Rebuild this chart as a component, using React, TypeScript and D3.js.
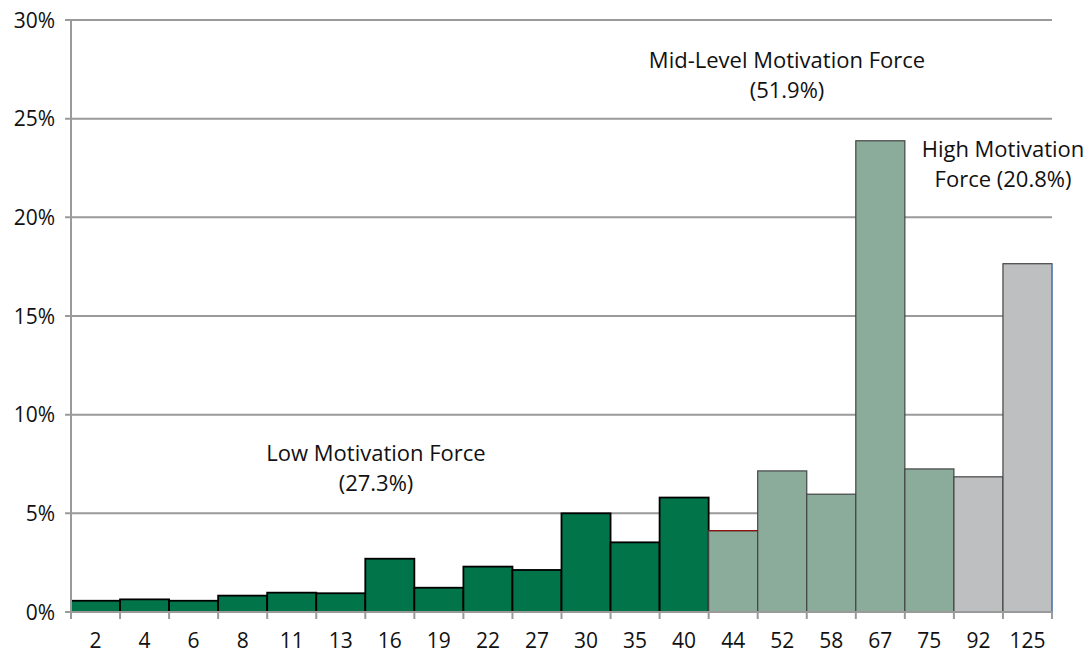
import React, { useEffect, useRef } from "react";
import * as d3 from "d3";

const categories = ["2", "4", "6", "8", "11", "13", "16", "19", "22", "27", "30", "35", "40", "44", "52", "58", "67", "75", "92", "125"];
const values = [0.57, 0.64, 0.57, 0.83, 0.98, 0.95, 2.7, 1.23, 2.3, 2.13, 5.0, 3.53, 5.8, 4.12, 7.15, 5.97, 23.88, 7.25, 6.85, 17.65];
// group: 0 low, 1 mid, 2 high
const groups = [0, 0, 0, 0, 0, 0, 0, 0, 0, 0, 0, 0, 0, 1, 1, 1, 1, 1, 2, 2];
const yTicks = [0, 5, 10, 15, 20, 25, 30];

const App: React.FC = () => {
    const svgRef = useRef<SVGSVGElement | null>(null);

    useEffect(() => {
        if (!svgRef.current) return;
        const W = 1092, H = 654;
        const margin = { top: 20, right: 40, bottom: 42, left: 71 };
        const width = W - margin.left - margin.right;
        const height = H - margin.top - margin.bottom;
        const font = "'Open Sans', 'Noto Sans', sans-serif";
        const fs = 21;

        const root = d3.select(svgRef.current);
        root.selectAll("*").remove();
        root.attr("width", W).attr("height", H);

        const svg = root.append("g").attr("transform", `translate(${margin.left},${margin.top})`);

        const x = d3.scaleBand<string>().domain(categories).range([0, width]).padding(0);
        const y = d3.scaleLinear().domain([0, 30]).range([height, 0]);

        // gridlines
        svg.append("g")
            .selectAll("line")
            .data(yTicks)
            .enter()
            .append("line")
            .attr("x1", -6)
            .attr("x2", width)
            .attr("y1", d => y(d))
            .attr("y2", d => y(d))
            .attr("stroke", "#9a9a9a")
            .attr("stroke-width", 2);

        svg.append("g")
            .selectAll("text")
            .data(yTicks)
            .enter()
            .append("text")
            .attr("x", -16)
            .attr("y", d => y(d))
            .attr("dy", "0.36em")
            .attr("text-anchor", "end")
            .attr("font-family", font)
            .attr("font-size", fs)
            .attr("fill", "#111")
            .text(d => d + "%");

        const fills = ["#02744a", "#8bac9b", "#bebfc1"];
        const strokes = ["#000", "#444", "#444"];

        svg.append("g")
            .selectAll("rect")
            .data(values)
            .enter()
            .append("rect")
            .attr("x", (d, i) => x(categories[i])!)
            .attr("y", d => y(d))
            .attr("width", x.bandwidth())
            .attr("height", d => height - y(d))
            .attr("fill", (d, i) => fills[groups[i]])
            .attr("stroke", (d, i) => strokes[groups[i]])
            .attr("stroke-width", (d, i) => (groups[i] === 0 ? 1.8 : 1.2));

        // red top edge on the first mid bar
        const i44 = categories.indexOf("44");
        svg.append("line")
            .attr("x1", x("44")!)
            .attr("x2", x("44")! + x.bandwidth())
            .attr("y1", y(values[i44]))
            .attr("y2", y(values[i44]))
            .attr("stroke", "#8b1010")
            .attr("stroke-width", 1.2);

        // blue right edge on the last bar
        const iLast = categories.length - 1;
        svg.append("line")
            .attr("x1", width)
            .attr("x2", width)
            .attr("y1", y(values[iLast]))
            .attr("y2", height)
            .attr("stroke", "#5b8fd6")
            .attr("stroke-width", 1.2);

        // y axis line
        svg.append("line")
            .attr("x1", 0).attr("x2", 0)
            .attr("y1", 0).attr("y2", height + 7)
            .attr("stroke", "#9a9a9a").attr("stroke-width", 2);

        // x axis line
        svg.append("line")
            .attr("x1", 0).attr("x2", width)
            .attr("y1", height).attr("y2", height)
            .attr("stroke", "#9a9a9a").attr("stroke-width", 2);

        // x ticks at band boundaries
        const bounds = categories.map(c => x(c)!).concat([width]);
        svg.append("g")
            .selectAll("line")
            .data(bounds)
            .enter()
            .append("line")
            .attr("x1", d => d).attr("x2", d => d)
            .attr("y1", height).attr("y2", height + 7)
            .attr("stroke", "#9a9a9a").attr("stroke-width", 2);

        svg.append("g")
            .selectAll("text")
            .data(categories)
            .enter()
            .append("text")
            .attr("x", d => x(d)! + x.bandwidth() / 2)
            .attr("y", height + 36)
            .attr("text-anchor", "middle")
            .attr("font-family", font)
            .attr("font-size", fs)
            .attr("fill", "#111")
            .text(d => d);

        // annotations
        const notes = [
            { x: 787, y: 68, lines: ["Mid-Level Motivation Force", "(51.9%)"] },
            { x: 1003, y: 157, lines: ["High Motivation", "Force (20.8%)"] },
            { x: 376, y: 461, lines: ["Low Motivation Force", "(27.3%)"] },
        ];
        notes.forEach(n => {
            const t = root.append("text")
                .attr("x", n.x)
                .attr("y", n.y)
                .attr("text-anchor", "middle")
                .attr("font-family", font)
                .attr("font-size", 22)
                .attr("fill", "#111");
            n.lines.forEach((l, k) => {
                t.append("tspan").attr("x", n.x).attr("dy", k === 0 ? 0 : 30).text(l);
            });
        });
    }, []);

    return <svg ref={svgRef} style={{ display: "block", position: "absolute", left: 0, top: 0 }}></svg>;
};

export default App;
